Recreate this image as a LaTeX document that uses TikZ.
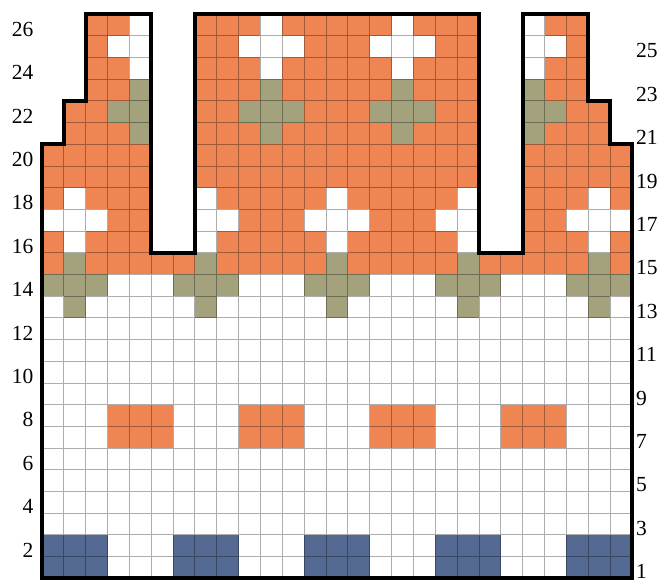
\documentclass[tikz,border=0pt]{standalone}
\usepackage{fontspec}
\setmainfont{Liberation Serif}
\usepackage{xcolor}
\definecolor{knitorange}{RGB}{238,133,82}
\definecolor{knitgreen}{RGB}{163,162,125}
\definecolor{knitblue}{RGB}{85,106,147}
\usepackage{tikz}
\usetikzlibrary{calc}

% plus motif centred on cell (col,row)
\newcommand{\motif}[3]{%
    \fill[#3] (#1-1,#2-2) rectangle (#1,#2+1);
    \fill[#3] (#1-2,#2-1) rectangle (#1+1,#2);}
% block from cell (c1,r1) to cell (c2,r2)
\newcommand{\block}[5]{\fill[#5] (#1-1,#2-1) rectangle (#3,#4);}

\begin{document}
\begin{tikzpicture}[
    x=0.5cm, y=0.4965cm,
    gridline/.style={draw=black, opacity=0.32, line width=0.6pt},
    rim/.style={draw=black, line width=2.4pt, line join=miter},
    num/.style={inner sep=0pt, font=\fontsize{14}{14}\selectfont}
]
\useasboundingbox (-1.92,-0.23) rectangle (28.33,26.65);

\begin{scope}
\clip (0,0) -- (0,20) -- (1,20) -- (1,22) -- (2,22) -- (2,26) -- (5,26)
    -- (5,15) -- (7,15) -- (7,26) -- (20,26) -- (20,15) -- (22,15)
    -- (22,26) -- (25,26) -- (25,22) -- (26,22) -- (26,20) -- (27,20)
    -- (27,0) -- cycle;
\fill[white] (0,0) rectangle (27,14);
\fill[knitorange] (0,14) rectangle (27,26);

% bands at the hem
\foreach \c in {1,7,13,19,25} {\block{\c}{1}{\c+2}{2}{knitblue}}
\foreach \c in {4,10,16,22} {\block{\c}{7}{\c+2}{8}{knitorange}}

% crosses
\foreach \c in {2,8,14,20,26} {
    \motif{\c}{14}{knitgreen}
    \motif{\c}{17}{white}
}
\foreach \c in {5,11,17,23} {
    \motif{\c}{22}{knitgreen}
    \motif{\c}{25}{white}
}

\draw[gridline, step={(1,1)}] (0,0) grid (27,26);
\end{scope}

\draw[rim] (0,0) -- (0,20) -- (1,20) -- (1,22) -- (2,22) -- (2,26) -- (5,26)
    -- (5,15) -- (7,15) -- (7,26) -- (20,26) -- (20,15) -- (22,15)
    -- (22,26) -- (25,26) -- (25,22) -- (26,22) -- (26,20) -- (27,20)
    -- (27,0) -- cycle;

% row numbers
\foreach \r in {2,4,...,26}
    \node[num, anchor=east] (left\r) at (-0.38,\r-0.7) {\r};
\foreach \r in {1,3,...,25}
    \node[num, anchor=west] (right\r) at (27.18,\r-0.7) {\r};
\end{tikzpicture}
\end{document}
